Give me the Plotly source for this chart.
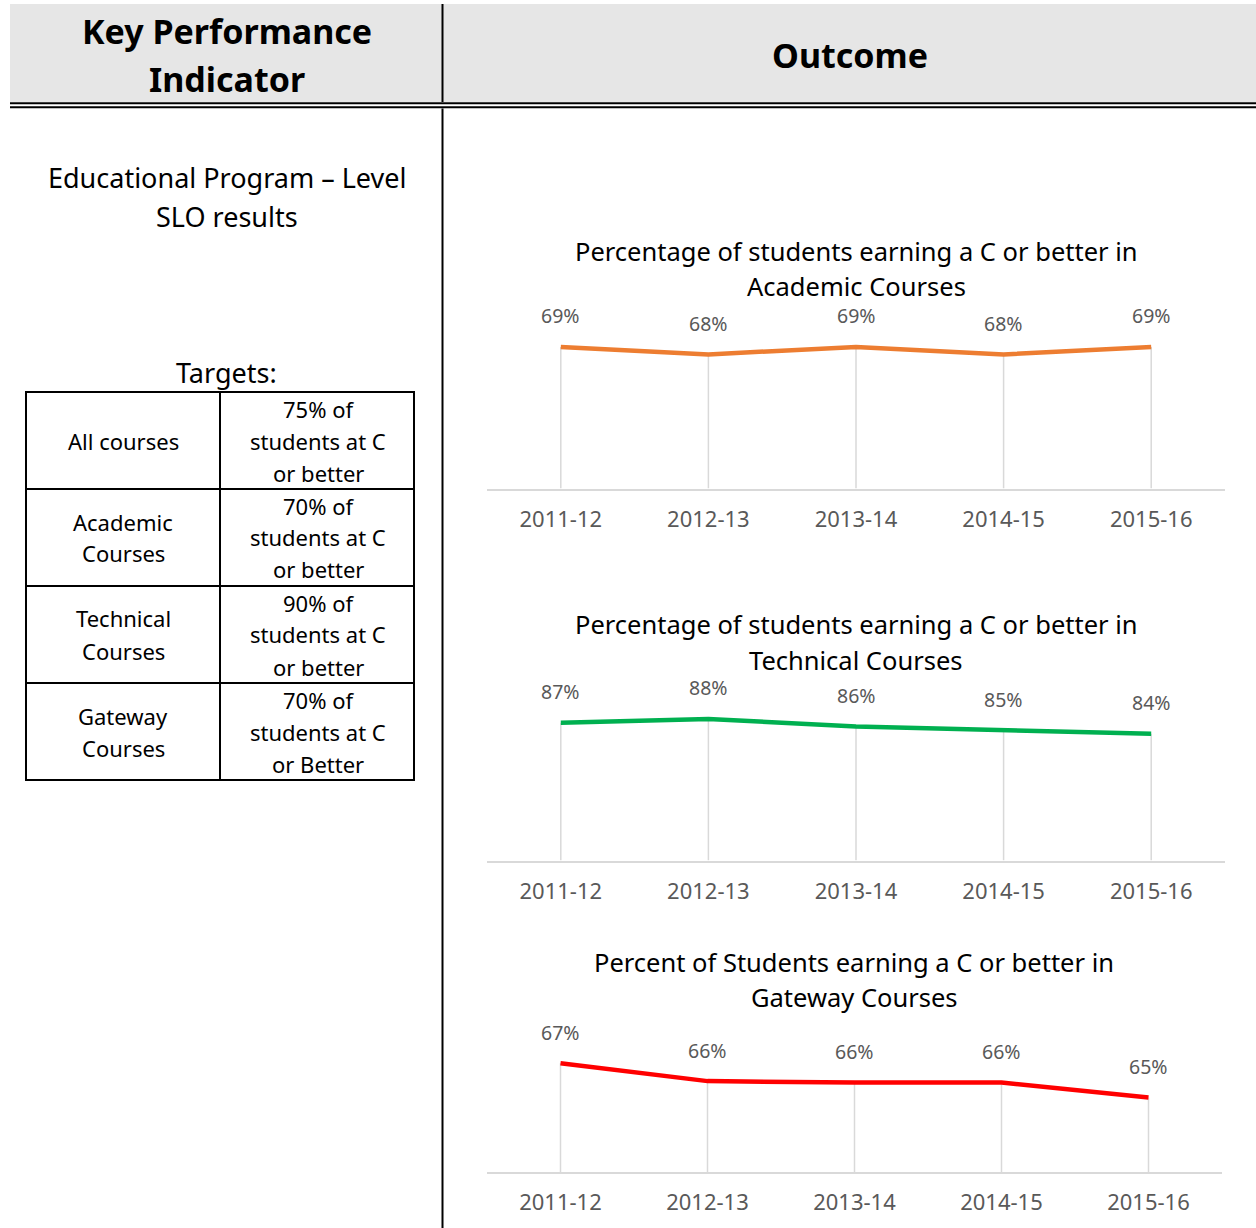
import plotly.graph_objects as go

W, H = 1256, 1228

# ---------------- data ----------------
years = ["2011-12", "2012-13", "2013-14", "2014-15", "2015-16"]
academic = [0.69, 0.68, 0.69, 0.68, 0.69]
technical = [0.87, 0.88, 0.86, 0.85, 0.84]
gateway = [0.673, 0.661, 0.66, 0.66, 0.65]

chart_titles = [
    ["Percentage of students earning a C or better in", "Academic Courses"],
    ["Percentage of students earning a C or better in", "Technical Courses"],
    ["Percent of Students earning a C or better in", "Gateway Courses"],
]
chart_colors = ["#ED7D31", "#00B050", "#FF0000"]
chart_ranges = [(0.5, 0.7), (0.5, 0.9), (0.6, 0.7)]

target_groups = [["All courses"], ["Academic", "Courses"], ["Technical", "Courses"], ["Gateway", "Courses"]]
target_texts = [
    ["75% of", "students at C", "or better"],
    ["70% of", "students at C", "or better"],
    ["90% of", "students at C", "or better"],
    ["70% of", "students at C", "or Better"],
]

# ---------------- helpers ----------------
def px(x):
    return x / W

def py(y):
    return 1 - y / H

LEFT_FONT = "Noto Sans"
CHART_FONT = "Noto Sans"

fig = go.Figure()
shapes = []
annotations = []

def text_lines(lines, xc, yc, spacing, size, family=LEFT_FONT, color="black", bold=False):
    n = len(lines)
    y0 = yc - spacing * (n - 1) / 2
    for i, t in enumerate(lines):
        annotations.append(dict(
            x=px(xc), y=py(y0 + i * spacing), xref="paper", yref="paper",
            xanchor="center", yanchor="middle", showarrow=False,
            text=f"<b>{t}</b>" if bold else t,
            font=dict(family=family, size=size, color=color)))

# header band
shapes.append(dict(type="rect", xref="paper", yref="paper", x0=px(10), x1=px(1256),
                   y0=py(102), y1=py(4), fillcolor="#e6e6e6", line=dict(width=0), layer="below"))
# double line
for yy in (103.3, 107.2):
    shapes.append(dict(type="line", xref="paper", yref="paper", x0=px(10), x1=px(1256),
                       y0=py(yy), y1=py(yy), line=dict(color="black", width=2)))
# vertical separator
shapes.append(dict(type="line", xref="paper", yref="paper", x0=px(442.5), x1=px(442.5),
                   y0=py(4), y1=py(102), line=dict(color="black", width=2)))
shapes.append(dict(type="line", xref="paper", yref="paper", x0=px(442.5), x1=px(442.5),
                   y0=py(108.5), y1=py(1228), line=dict(color="black", width=2)))

# header texts
text_lines(["Key Performance", "Indicator"], 227, 55, 48, 34, bold=True)
text_lines(["Outcome"], 850, 55, 48, 34, bold=True)

text_lines(["Educational Program \u2013 Level", "SLO results"], 227, 197, 39, 27)
text_lines(["Targets:"], 227, 372, 39, 27)

# targets table
row_edges = [392, 489, 586, 683, 780]
tx0, tmid, tx1 = 26, 220, 414
shapes.append(dict(type="rect", xref="paper", yref="paper", x0=px(tx0), x1=px(tx1),
                   y0=py(row_edges[-1]), y1=py(row_edges[0]), line=dict(color="black", width=2)))
shapes.append(dict(type="line", xref="paper", yref="paper", x0=px(tmid), x1=px(tmid),
                   y0=py(row_edges[-1]), y1=py(row_edges[0]), line=dict(color="black", width=2)))
for yy in row_edges[1:-1]:
    shapes.append(dict(type="line", xref="paper", yref="paper", x0=px(tx0), x1=px(tx1),
                       y0=py(yy), y1=py(yy), line=dict(color="black", width=2)))
for i, (g, t) in enumerate(zip(target_groups, target_texts)):
    yc = (row_edges[i] + row_edges[i + 1]) / 2
    text_lines(g, (tx0 + tmid) / 2, yc, 32, 22)
    text_lines(t, (tmid + tx1) / 2 + 1, yc, 32, 22)

# ---------------- charts ----------------
chart_series = [academic, technical, gateway]
baselines = [488.5, 860.5, 1172.0]
x_spans = [(487, 1225), (487, 1225), (487, 1222)]
title_y = [268, 642, 979]
title_x = [856, 856, 854]
plot_h = 149.0

layout_axes = {}
for k, (vals, col, (ymin, ymax)) in enumerate(zip(chart_series, chart_colors, chart_ranges)):
    n = k + 1
    xa = "x" if n == 1 else f"x{n}"
    ya = "y" if n == 1 else f"y{n}"
    # drop lines from axis to each point
    fig.add_trace(go.Scatter(
        x=years, y=vals, xaxis=xa, yaxis=ya, mode="markers",
        marker=dict(size=1, color="rgba(0,0,0,0)"),
        error_y=dict(type="data", symmetric=False, array=[0] * len(vals),
                     arrayminus=[v - ymin for v in vals], color="#d9d9d9",
                     thickness=1.5, width=0),
        hoverinfo="skip", showlegend=False, cliponaxis=False))
    fig.add_trace(go.Scatter(
        x=years, y=vals, xaxis=xa, yaxis=ya, mode="lines",
        line=dict(color=col, width=4.5), showlegend=False, cliponaxis=False))
    for yr, v in zip(years, vals):
        annotations.append(dict(x=yr, y=v, xref=xa, yref=ya, yshift=31, showarrow=False,
                                xanchor="center", yanchor="middle",
                                text=f"{round(v * 100)}%",
                                font=dict(family=CHART_FONT, size=19.5, color="#595959")))
    text_lines(chart_titles[k], title_x[k], title_y[k], 35, 25.5, family=CHART_FONT)
    b = baselines[k]
    xs = x_spans[k]
    layout_axes["xaxis" if n == 1 else f"xaxis{n}"] = dict(
        domain=[px(xs[0]), px(xs[1])], anchor=ya, type="category", range=[-0.5, 4.5],
        showline=True, linecolor="#d9d9d9", linewidth=2, showgrid=False, zeroline=False,
        ticks="", tickfont=dict(family=CHART_FONT, size=22, color="#595959"),
        ticklabelstandoff=10, fixedrange=True)
    layout_axes["yaxis" if n == 1 else f"yaxis{n}"] = dict(
        domain=[py(b), py(b - plot_h)], anchor=xa, range=[ymin, ymax], visible=False,
        showgrid=False, zeroline=False, fixedrange=True)

fig.update_layout(
    width=W, height=H, margin=dict(l=0, r=0, t=0, b=0),
    paper_bgcolor="white", plot_bgcolor="rgba(0,0,0,0)",
    shapes=shapes, annotations=annotations, showlegend=False,
    **layout_axes)

fig.write_html("out.html", config={"displayModeBar": False},
               post_script="document.body.style.margin='0';document.body.style.overflow='hidden';")
